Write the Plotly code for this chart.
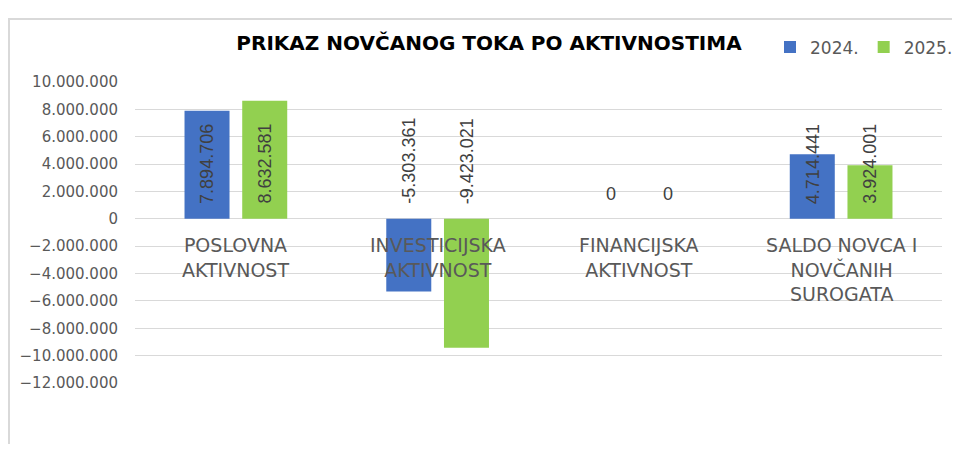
import plotly.graph_objects as go

categories = ["POSLOVNA<br>AKTIVNOST", "INVESTICIJSKA<br>AKTIVNOST", "FINANCIJSKA<br>AKTIVNOST", "SALDO NOVCA I<br>NOVČANIH<br>SUROGATA"]
series_names = ["2024.", "2025."]
values_2024 = [7894706, -5303361, 0, 4714441]
values_2025 = [8632581, -9423021, 0, 3924001]
tick_values = list(range(-12000000, 10000001, 2000000))

colors = ["#4472C4", "#92D050"]

def fmt(v):
    return f"{v:,}".replace(",", ".")

fig = go.Figure()
for name, vals, col in zip(series_names, [values_2024, values_2025], colors):
    fig.add_trace(go.Bar(x=list(range(len(categories))), y=vals, name=name,
                         marker=dict(color=col, line=dict(width=0))))

annotations = []
shifts = [-28.8, 28.8]
for vals, sh in zip([values_2024, values_2025], shifts):
    for i, v in enumerate(vals):
        annotations.append(dict(x=i, y=0, xref="x", yref="y", text=fmt(v),
                                textangle=-90 if v != 0 else 0, showarrow=False,
                                xanchor="center", yanchor="bottom", xshift=sh, yshift=13,
                                font=dict(family="Liberation Sans", size=18, color="#404040")))
for i, c in enumerate(categories):
    annotations.append(dict(x=i, y=0, xref="x", yref="y", text=c, showarrow=False,
                            xanchor="center", yanchor="top", yshift=-13,
                            font=dict(family="DejaVu Sans", size=19, color="#595959")))

W, H = 944, 436
L, R, T, B = 127, 10, 74, 61
PW = W - L - R

fig.update_layout(
    width=W, height=H,
    margin=dict(l=L, r=R, t=T, b=B, autoexpand=False),
    paper_bgcolor="white", plot_bgcolor="white",
    barmode="group", bargap=0.428, bargroupgap=0.22,
    separators=",.",
    title=dict(text="<b>PRIKAZ NOVČANOG TOKA PO AKTIVNOSTIMA</b>", x=(481 - L) / PW, xref="paper",
               xanchor="center", y=1 - 35 / H, yanchor="middle",
               font=dict(family="DejaVu Sans", size=20, color="#000000")),
    legend=dict(orientation="h", x=(950 - L) / PW, y=1.175, xanchor="right", yanchor="top",
                font=dict(family="DejaVu Sans", size=17, color="#595959"),
                bgcolor="rgba(0,0,0,0)", traceorder="normal"),
    xaxis=dict(range=[-0.5, 3.5], showticklabels=False, showgrid=False, zeroline=False,
               showline=False, ticks=""),
    yaxis=dict(range=[-12000000, 10000000], tickvals=tick_values, tickformat=",d",
               showgrid=True, gridcolor="#d9d9d9", gridwidth=1.3,
               zeroline=True, zerolinecolor="#d9d9d9", zerolinewidth=1.3,
               showline=False, ticks="outside", ticklen=13, tickcolor="rgba(0,0,0,0)",
               tickfont=dict(family="DejaVu Sans", size=15, color="#595959")),
    annotations=annotations,
    shapes=[dict(type="rect", xref="paper", yref="paper", x0=(1 - L) / PW, x1=1.3, y0=-0.5, y1=1.209,
                 line=dict(color="#d9d9d9", width=2), fillcolor="rgba(0,0,0,0)", layer="below")],
)

fig.write_html("out.html")
